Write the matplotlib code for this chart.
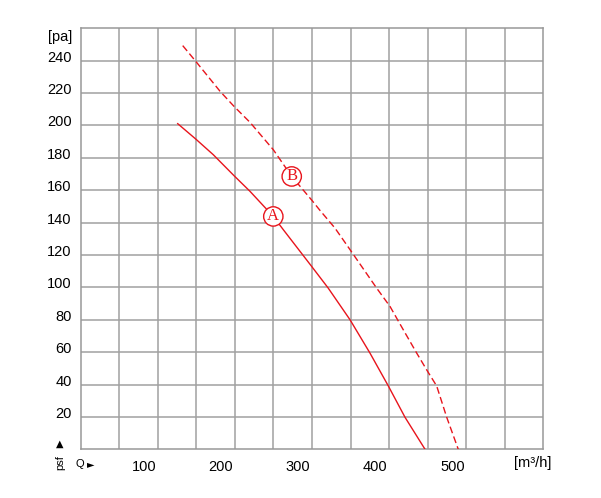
import matplotlib
matplotlib.use("Agg")
import matplotlib.pyplot as plt
import matplotlib.transforms as mtransforms
import numpy as np

# curve A (solid) and curve B (dashed), Q in m3/h, psf in pa
qa = [143.8, 167.2, 190.0, 216.8, 237.6, 267.8, 280.8, 317.6, 339.1, 367.3, 393.2, 417.0, 438.6, 464.6]
pa = [201.1, 191.6, 181.9, 169.0, 159.3, 143.8, 135.6, 112.9, 99.5, 80.0, 59.4, 39.1, 19.8, 0.0]

qb = [150.3, 167.2, 198.7, 216.8, 237.6, 267.8, 291.7, 317.6, 328.4, 347.8, 367.3, 401.9, 419.2,
      436.4, 453.8, 466.8, 479.7, 492.7, 507.7]
pb = [249.3, 239.6, 221.1, 211.8, 201.9, 185.0, 168.5, 153.9, 147.5, 136.6, 123.3, 99.5, 88.2,
      73.8, 59.4, 49.0, 39.1, 19.8, 0.0]

xticks = [100, 200, 300, 400, 500]
yticks = [20, 40, 60, 80, 100, 120, 140, 160, 180, 200, 220, 240]
x0, x1 = 18, 618
y0, y1 = 0, 260

red = "#e8141c"
grid_c = "#a0a0a0"

fig = plt.figure(figsize=(6.01, 4.98), dpi=100)
ax = fig.add_axes([0.1343, 0.0978, 0.7697, 0.8454])
ax.set_xlim(x0, x1)
ax.set_ylim(y0, y1)

for x in np.arange(x0 + 50, x1, 50):
    ax.axvline(x, color=grid_c, lw=1.1, zorder=1)
for y in np.arange(20, y1, 20):
    ax.axhline(y, color=grid_c, lw=1.1, zorder=1)
for s in ax.spines.values():
    s.set_color("#999999")
    s.set_linewidth(1.1)

ax.plot(qa, pa, color=red, lw=1.0, zorder=3)
ax.plot(qb, pb, color=red, lw=1.0, dashes=(5, 2.5), zorder=3)

ax.set_xticks(xticks)
ax.set_xticklabels([str(v) for v in xticks])
ax.set_yticks(yticks)
ax.set_yticklabels([])
ax.tick_params(length=0, labelsize=10.5, pad=8)
for lab in ax.get_xticklabels():
    lab.set_fontfamily("Liberation Sans")

# y labels sit a little above their grid lines
ytr = mtransforms.offset_copy(ax.get_yaxis_transform(), fig=fig, x=-9, y=3, units="dots")
for v in yticks:
    ax.text(0, v, str(v), transform=ytr, ha="right", va="center", fontsize=10.5,
            family="Liberation Sans")

# circled curve names
circ = dict(boxstyle="circle,pad=0.1", fc="white", ec=red, lw=1.0)
ax.text(267.8, 143.8, "A", color=red, fontsize=12, family="Liberation Serif",
        ha="center", va="center", bbox=circ, zorder=4)
ax.text(291.7, 168.5, "B", color=red, fontsize=12, family="Liberation Serif",
        ha="center", va="center", bbox=circ, zorder=4)

# axis captions
fig.text(72 / 601, 1 - 37 / 498, "[pa]", ha="right", va="center", fontsize=10.5, family="Liberation Sans")
fig.text(533 / 601, 1 - 463 / 498, "[m³/h]", ha="center", va="center", fontsize=10.5, family="Liberation Sans")
fig.text(80 / 601, 1 - 464 / 498, "Q", ha="center", va="center", fontsize=8, family="Liberation Sans")
fig.text(91 / 601, 1 - 464 / 498, "►", ha="center", va="center", fontsize=7, family="DejaVu Sans")
fig.text(60 / 601, 1 - 463 / 498, "psf", ha="center", va="center", rotation=90, fontsize=8, family="Liberation Sans")
fig.text(60 / 601, 1 - 444 / 498, "▲", ha="center", va="center", fontsize=7, family="DejaVu Sans")

fig.savefig("out.png", dpi=100)
